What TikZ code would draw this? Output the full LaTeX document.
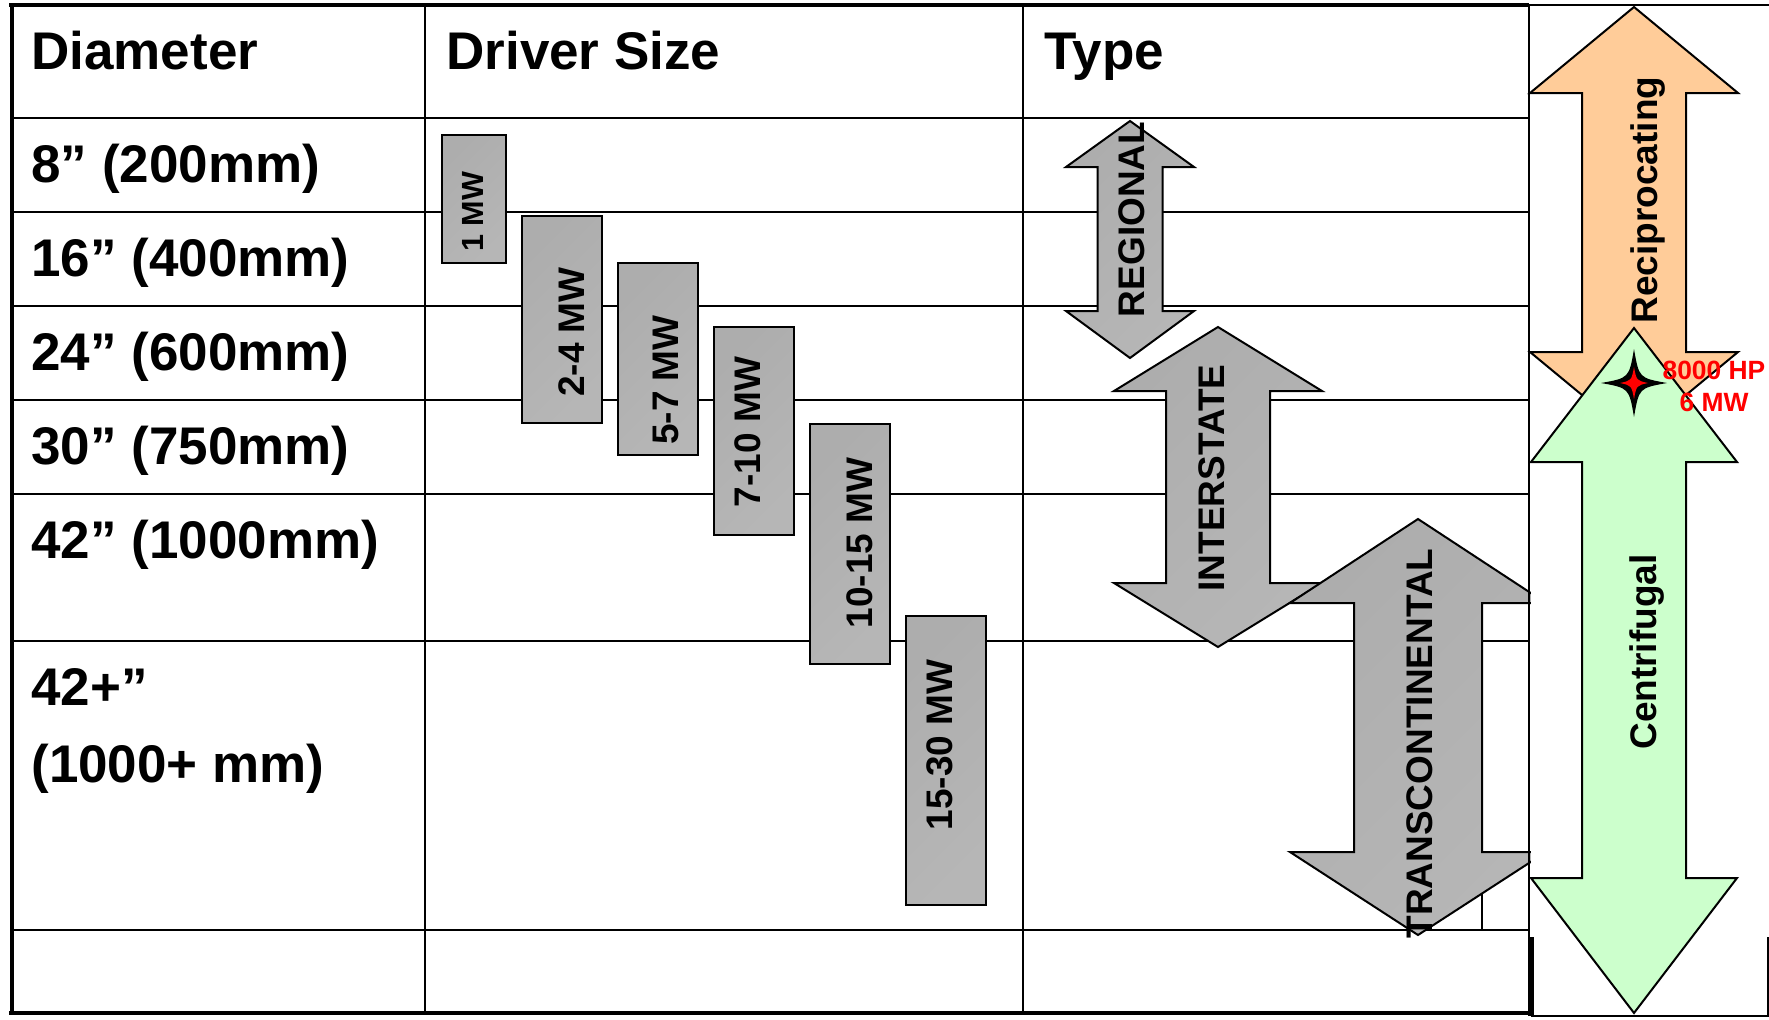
\documentclass[tikz,border=0pt]{standalone}
\usepackage{fontspec}
\setmainfont{Liberation Sans}
\definecolor{gdark}{HTML}{ADADAD}
\definecolor{glight}{HTML}{D0D0D0}
\definecolor{gmid}{HTML}{B6B6B6}
\definecolor{orangefill}{HTML}{FFCC99}
\definecolor{greenfill}{HTML}{CCFFCC}
\definecolor{redtext}{HTML}{FF0000}
\newcommand\dblarr[8]{%
  \path[#1] (#2,#3) -- (#2+#7,#4) -- (#2+#8,#4) -- (#2+#8,#5) -- (#2+#7,#5) -- (#2,#6)
    -- (#2-#7,#5) -- (#2-#8,#5) -- (#2-#8,#4) -- (#2-#7,#4) -- cycle;}
\begin{document}
\begin{tikzpicture}[x=0.5pt,y=-0.5pt,
  tline/.style={line width=1pt},
  tborder/.style={line width=2.4pt},
  graybody/.style={draw=black,line width=1pt,
     left color=gdark,middle color=glight,right color=gmid,shading angle=45},
  vlabel/.style={rotate=90,anchor=base,inner sep=0pt,font=\bfseries\fontsize{18.5}{20}\selectfont},
  hlabel/.style={anchor=base west,inner sep=0pt,font=\bfseries\fontsize{26.5}{30}\selectfont},
  redlabel/.style={anchor=base,inner sep=0pt,text=redtext,font=\bfseries\fontsize{13.2}{15}\selectfont}]
\useasboundingbox (0,0) rectangle (1769,1019);
\fill[white] (0,0) rectangle (1769,1019);
% ---- table grid
\foreach \yy in {118,212,306,400,494,641,930} \draw[tline] (12,\yy) -- (1529,\yy);
\foreach \xx in {425,1023} \draw[tline] (\xx,5) -- (\xx,1013);
\draw[tline] (1482,603) -- (1482,930);
\draw[tborder] (9,5) -- (1529,5);
\draw[tborder] (12,3) -- (12,1015);
\draw[tborder] (9,1013) -- (1531,1013);
% ---- table text
\node[hlabel] (hdiam) at (31,69) {Diameter};
\node[hlabel] (hdrv) at (446,69) {Driver Size};
\node[hlabel] (htype) at (1044,69) {Type};
\node[hlabel] (r1) at (31,182) {8” (200mm)};
\node[hlabel] (r2) at (31,276) {16” (400mm)};
\node[hlabel] (r3) at (31,370) {24” (600mm)};
\node[hlabel] (r4) at (31,464) {30” (750mm)};
\node[hlabel] (r5) at (31,558) {42” (1000mm)};
\node[hlabel] (r6a) at (31,705) {42+”};
\node[hlabel] (r6b) at (31,782) {(1000+ mm)};
% ---- driver size boxes
\path[graybody] (442,135) rectangle (506,263);
\path[graybody] (522,216) rectangle (602,423);
\path[graybody] (618,263) rectangle (698,455);
\path[graybody] (714,327) rectangle (794,535);
\path[graybody] (810,424) rectangle (890,664);
\path[graybody] (906,616) rectangle (986,905);
\node[vlabel,font=\bfseries\fontsize{15.3}{17}\selectfont] (b1) at (483,212) {1 MW};
\node[vlabel] (b2) at (584,332) {2-4 MW};
\node[vlabel] (b3) at (678,380) {5-7 MW};
\node[vlabel] (b4) at (760,432) {7-10 MW};
\node[vlabel] (b5) at (872,543) {10-15 MW};
\node[vlabel] (b6) at (952,745) {15-30 MW};
% ---- type arrows
\dblarr{graybody}{1130}{121}{167}{311}{358}{64}{32.5}
\node[vlabel] (reg) at (1144,219.5) {REGIONAL};
\dblarr{graybody}{1218}{327}{391}{583}{647}{104}{52}
\node[vlabel] (inter) at (1224,478) {INTERSTATE};
\dblarr{graybody}{1418}{519}{603}{852}{935}{128}{64}
\node[vlabel] (trans) at (1432,743.5) {TRANSCONTINENTAL};
% ---- right panel
\fill[white] (1531,0) rectangle (1769,1019);
\draw[line width=1.3pt] (1529,5) -- (1529,937);
\draw[line width=2.6pt] (1531,937) -- (1531,1016);
\draw[tline] (1529,5) -- (1769,5);
\draw[tline] (1531,1016) -- (1768,1016) -- (1768,937);
\dblarr{draw=black,line width=1pt,fill=orangefill}{1634}{7}{93}{352}{438}{104}{52}
\node[vlabel] (recip) at (1657,200) {Reciprocating};
\dblarr{draw=black,line width=1pt,fill=greenfill}{1634}{328}{462}{878}{1013}{103}{52}
\node[vlabel] (centr) at (1656,652) {Centrifugal};
% ---- star
\begin{scope}[shift={(1634,383)}]
  \fill[black] (0,-34) .. controls (5,-5) .. (33,0) .. controls (5,5) .. (0,34)
     .. controls (-5,5) .. (-33,0) .. controls (-5,-5) .. cycle;
  \fill[redtext] (0,-16) .. controls (2.5,-2.5) .. (14,0) .. controls (2.5,2.5) .. (0,16)
     .. controls (-2.5,2.5) .. (-14,0) .. controls (-2.5,-2.5) .. cycle;
\end{scope}
\node[redlabel] (hp) at (1714,379) {8000 HP};
\node[redlabel] (mw) at (1714,411) {6 MW};
\end{tikzpicture}
\end{document}
